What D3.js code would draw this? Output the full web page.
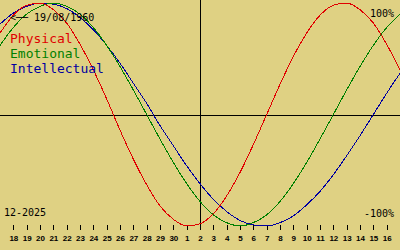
<!DOCTYPE html>
<html>
<head>
<meta charset="utf-8">
<script src="https://cdn.jsdelivr.net/npm/d3@7"></script>
<style>
  body { margin: 0; background: #dfd183; }
  svg { display: block; }
</style>
</head>
<body>
<div id="chart"></div>
<script>
// day labels on the axis, 18 Nov .. 16 Dec
let dayLabels = ["18","19","20","21","22","23","24","25","26","27","28","29","30",
                 "1","2","3","4","5","6","7","8","9","10","11","12","13","14","15","16"]

// cycle values, one per day, starting one day before the first label (17 Nov) to one after (17 Dec)
let physical = [0.73,0.89,0.98,1.00,0.94,0.82,0.63,0.40,0.14,-0.14,-0.40,-0.63,-0.82,-0.94,-1.00,-0.98,
                -0.89,-0.73,-0.52,-0.27,0,0.27,0.52,0.73,0.89,0.98,1.00,0.94,0.82,0.63,0.40]
let emotional = [0.62,0.78,0.90,0.97,1.00,0.97,0.90,0.78,0.62,0.43,0.22,0,-0.22,-0.43,-0.62,-0.78,
                 -0.90,-0.97,-1.00,-0.97,-0.90,-0.78,-0.62,-0.43,-0.22,0,0.22,0.43,0.62,0.78,0.90]
let intellectual = [0.81,0.91,0.97,1.00,0.99,0.95,0.87,0.76,0.62,0.46,0.28,0.10,-0.10,-0.28,-0.46,-0.62,
                    -0.76,-0.87,-0.95,-0.99,-1.00,-0.97,-0.91,-0.81,-0.69,-0.54,-0.37,-0.19,0,0.19,0.37]

let series = [
    {name: "Physical", values: physical, color: "#e00000"},
    {name: "Emotional", values: emotional, color: "#008000"},
    {name: "Intellectual", values: intellectual, color: "#0000a0"}
]
let birthLabel = "<── 19/08/1960"
let monthLabel = "12-2025"
let todayIndex = 14   // 2 Dec

let width = 400
let height = 250
let mono = "'DejaVu Sans Mono', monospace"

let svg = d3.select('#chart')
            .append('svg')
            .attr('width', width)
            .attr('height', height)

svg.append('rect').attr('width', width).attr('height', height).attr('fill', '#dfd183')

let x = d3.scaleLinear().domain([-1, dayLabels.length]).range([0, width])
let y = d3.scaleLinear().domain([-1, 1]).range([226, 3])

// zero line and today line
svg.append('line')
    .attr('x1', 0).attr('x2', width)
    .attr('y1', Math.round(y(0)) + 0.5).attr('y2', Math.round(y(0)) + 0.5)
    .attr('stroke', '#000')
svg.append('line')
    .attr('x1', Math.round(x(todayIndex)) + 0.5).attr('x2', Math.round(x(todayIndex)) + 0.5)
    .attr('y1', 0).attr('y2', 225)
    .attr('stroke', '#000')

// bottom axis ticks
let xAxis = d3.axisBottom(x)
    .tickValues(d3.range(dayLabels.length))
    .tickFormat(i => dayLabels[i])
    .tickSize(5)
    .tickPadding(5)

let axisG = svg.append('g')
    .attr('transform', 'translate(0,225)')
    .call(xAxis)
axisG.select('.domain').remove()
axisG.selectAll('line').attr('stroke', '#000').attr('shape-rendering', 'crispEdges')
axisG.selectAll('text')
    .attr('fill', '#000')
    .style('font-family', "'Liberation Sans', Arial, sans-serif")
    .style('font-weight', 'bold')
    .style('font-size', '8px')

// curves
let line = d3.line()
    .x((d, i) => x(i - 1))
    .y(d => y(d))
    .curve(d3.curveMonotoneX)

svg.selectAll('path.cycle')
    .data(series.slice().reverse())
    .enter()
    .append('path')
    .attr('class', 'cycle')
    .attr('d', d => line(d.values))
    .attr('fill', 'none')
    .attr('stroke', d => d.color)
    .attr('stroke-width', 1)
    .attr('shape-rendering', 'crispEdges')

// legend
svg.append('text')
    .attr('x', 10).attr('y', 20.5)
    .style('font-family', mono).style('font-size', '10px')
    .attr('fill', '#000')
    .text(birthLabel)

svg.selectAll('text.legend')
    .data(series)
    .enter()
    .append('text')
    .attr('class', 'legend')
    .attr('x', 10)
    .attr('y', (d, i) => 43 + i * 15)
    .attr('fill', d => d.color)
    .style('font-family', mono).style('font-size', '13px')
    .text(d => d.name)

svg.append('text')
    .attr('x', 394).attr('y', 16.5)
    .attr('text-anchor', 'end')
    .style('font-family', mono).style('font-size', '10px')
    .text('100%')
svg.append('text')
    .attr('x', 394).attr('y', 216.5)
    .attr('text-anchor', 'end')
    .style('font-family', mono).style('font-size', '10px')
    .text('-100%')
svg.append('text')
    .attr('x', 4).attr('y', 216)
    .style('font-family', mono).style('font-size', '10px')
    .text(monthLabel)
</script>
</body>
</html>
